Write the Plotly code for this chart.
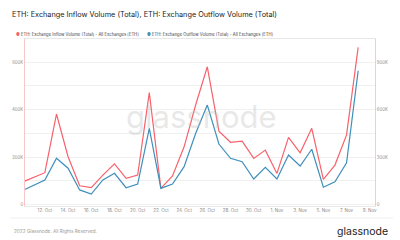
import plotly.graph_objects as go
import pandas as pd

dates = pd.date_range("2022-10-10", "2022-11-08", freq="D")
inflow = [93, 114, 134, 381, 201, 79, 71, 124, 171, 110, 124, 471, 68, 120, 243, 420,
          580, 309, 262, 267, 194, 229, 131, 283, 218, 321, 106, 166, 293, 662]
outflow = [85, 121, 155, 292, 229, 92, 66, 155, 197, 106, 129, 481, 102, 129, 239, 450,
           628, 382, 292, 270, 161, 235, 161, 313, 243, 349, 109, 144, 264, 845]
inflow = [v * 1000 for v in inflow]
outflow = [v * 1000 for v in outflow]

tick_dates = ["2022-10-12", "2022-10-14", "2022-10-16", "2022-10-18", "2022-10-20",
              "2022-10-22", "2022-10-24", "2022-10-26", "2022-10-28", "2022-10-30",
              "2022-11-01", "2022-11-03", "2022-11-05", "2022-11-07", "2022-11-09"]
tick_text = ["12. Oct", "14. Oct", "16. Oct", "18. Oct", "20. Oct", "22. Oct", "24. Oct",
             "26. Oct", "28. Oct", "30. Oct", "1. Nov", "3. Nov", "5. Nov", "7. Nov", "9. Nov"]

left_vals = [0, 100000, 200000, 300000, 400000, 500000, 600000]
left_text = ["0", "", "200K", "", "400K", "", "600K"]
right_vals = [0, 300000, 600000, 900000]
right_text = ["0", "300K", "600K", "900K"]

RED = "#f7626c"
BLUE = "#3e8fbb"
FONT = "Inter"

fig = go.Figure()
fig.add_trace(go.Scatter(x=dates, y=inflow, mode="lines", line=dict(color=RED, width=1.2),
                         name="ETH: Exchange Inflow Volume (Total) - All Exchanges [ETH]", yaxis="y"))
fig.add_trace(go.Scatter(x=dates, y=outflow, mode="lines", line=dict(color=BLUE, width=1.2),
                         name="ETH: Exchange Outflow Volume (Total) - All Exchanges [ETH]", yaxis="y2"))

L, R, T, B = 16, 19, 39, 34
W, H = 400, 240
pw, ph = W - L - R, H - T - B

def px(x):
    return (x - L) / pw

def py(y):
    return (H - B - y) / ph

fig.update_layout(
    width=W, height=H,
    margin=dict(l=L, r=R, t=T, b=B, pad=0),
    paper_bgcolor="white", plot_bgcolor="white",
    showlegend=False,
    font=dict(family=FONT, color="#8a8a8a", size=4.5),
    xaxis=dict(range=["2022-10-10 06:55", "2022-11-09 10:50"], tickvals=tick_dates,
               ticktext=tick_text, showgrid=False, showline=True, linecolor="#e8e8e8",
               linewidth=1, mirror=True, ticks="", tickfont=dict(size=4.5, color="#8a8a8a"),
               zeroline=False),
    yaxis=dict(range=[-6300, 697000], tickvals=left_vals, ticktext=left_text,
               showgrid=True, gridcolor="#f0f0f0", gridwidth=1, showline=True,
               linecolor="#fbc5c8", linewidth=1, zeroline=False, ticks="",
               tickfont=dict(size=4.3, color="#8a8a8a")),
    yaxis2=dict(range=[-9500, 1045500], tickvals=right_vals, ticktext=right_text,
                overlaying="y", side="right", showgrid=False, showline=True,
                linecolor="#c5dcec", linewidth=1, zeroline=False, ticks="",
                tickfont=dict(size=4.3, color="#8a8a8a")),
)

ann = []
ann.append(dict(text="ETH: Exchange Inflow Volume (Total), ETH: Exchange Outflow Volume (Total)",
                x=px(0), y=py(15), xref="paper", yref="paper", xanchor="left", yanchor="middle",
                showarrow=False, font=dict(family=FONT, size=7.3, color="#222222")))
ann.append(dict(text="<span style='color:%s'>●</span> ETH: Exchange Inflow Volume (Total) - All Exchanges [ETH]" % RED,
                x=px(5), y=py(34.5), xref="paper", yref="paper", xanchor="left", yanchor="middle",
                showarrow=False, font=dict(family=FONT, size=4.2, color="#444444")))
ann.append(dict(text="<span style='color:%s'>●</span> ETH: Exchange Outflow Volume (Total) - All Exchanges [ETH]" % BLUE,
                x=px(141), y=py(34.5), xref="paper", yref="paper", xanchor="left", yanchor="middle",
                showarrow=False, font=dict(family=FONT, size=4.2, color="#444444")))
ann.append(dict(text="2022 Glassnode. All Rights Reserved.",
                x=px(2), y=py(231), xref="paper", yref="paper", xanchor="left", yanchor="middle",
                showarrow=False, font=dict(family=FONT, size=4.7, color="#9a9a9a")))
ann.append(dict(text="glassnode",
                x=px(397), y=py(231), xref="paper", yref="paper", xanchor="right", yanchor="middle",
                showarrow=False, font=dict(family=FONT, size=10.5, color="#1c1c1c")))
ann.append(dict(text="glassnode",
                x=px(200), y=py(116), xref="paper", yref="paper", xanchor="center", yanchor="middle",
                showarrow=False, font=dict(family=FONT, size=31, color="rgba(190,190,190,0.35)")))
fig.update_layout(annotations=ann)

fig.add_shape(type="line", xref="paper", yref="paper", x0=px(0), x1=px(400), y0=py(218), y1=py(218),
              line=dict(color="#f0f0f0", width=1))

fig.write_html("out.html")
